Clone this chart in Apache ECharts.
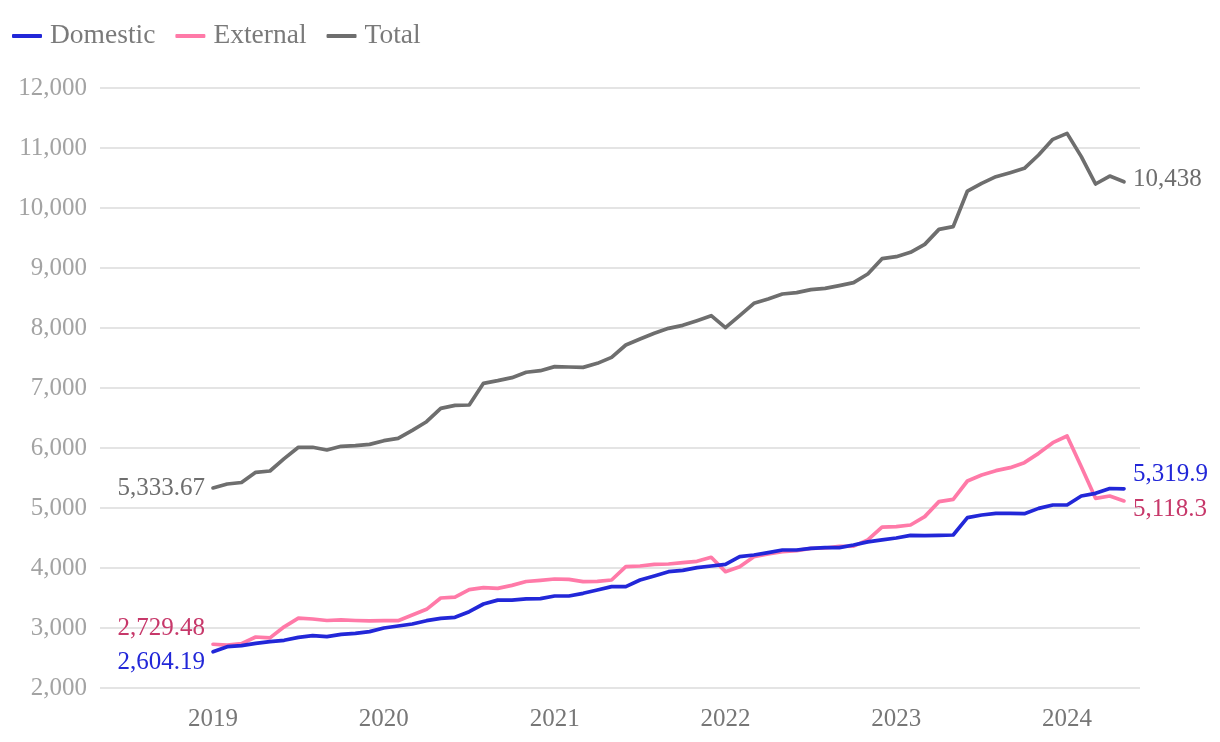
<!DOCTYPE html>
<html><head><meta charset="utf-8">
<script src="https://cdn.jsdelivr.net/npm/echarts@6/dist/echarts.min.js"></script>
<style>html,body{margin:0;padding:0;background:#fff}#c{width:1220px;height:742px}</style>
</head><body><div id="c"></div>
<script>
// Monthly, Jan 2019 .. May 2024 (index 0..64)
const domestic = [2604.19,2689,2706,2744,2772,2795,2844,2872,2856,2894,2911,2939,3000,3033,3067,3122,3161,3178,3272,3400,3464,3465,3485,3489,3533,3533,3578,3633,3689,3689,3800,3867,3939,3961,4006,4033,4061,4189,4217,4256,4300,4300,4328,4339,4339,4383,4436,4470,4500,4544,4540,4544,4550,4839,4883,4911,4911,4905,4994,5050,5050,5200,5244,5325,5319.9];
const external = [2729.48,2715,2740,2850,2835,3020,3165,3150,3125,3135,3125,3120,3122,3122,3217,3311,3500,3515,3640,3672,3661,3710,3775,3794,3817,3811,3772,3778,3800,4022,4033,4061,4067,4089,4111,4178,3939,4022,4189,4233,4272,4289,4328,4333,4360,4365,4467,4680,4689,4717,4856,5106,5144,5450,5550,5622,5672,5756,5911,6089,6200,5689,5161,5200,5118.3];
const total = [5333.67,5400,5425,5595,5617,5822,6012,6012,5967,6028,6040,6060,6122,6160,6295,6438,6661,6710,6717,7078,7122,7172,7262,7289,7356,7350,7344,7411,7511,7717,7817,7911,7994,8044,8122,8205,8006,8205,8411,8483,8567,8589,8639,8661,8706,8756,8900,9156,9189,9261,9394,9644,9689,10283,10411,10522,10589,10661,10883,11144,11244,10856,10400,10533,10438];
const yearLabels = ['2019','2020','2021','2022','2023','2024'];
const yearTickIndex = [0,12,24,36,48,60];
const seriesNames = ['Domestic','External','Total'];

const FONT = '"Liberation Serif", serif';
const fmt = v => v.toLocaleString('en-US', {maximumFractionDigits: 2});

function build(values, startLabel, endLabel) {
  return values.map((v, i) => {
    const item = {value: [i, v]};
    if (i === 0) item.label = Object.assign({show: true, position: 'left', distance: 8, formatter: fmt(v)}, startLabel);
    else if (i === values.length - 1) item.label = Object.assign({show: true, position: 'right', distance: 9, formatter: fmt(v)}, endLabel);
    return item;
  });
}

const labelBase = {fontFamily: FONT, fontSize: 25};
const chart = echarts.init(document.getElementById('c'), null, {renderer: 'canvas'});
chart.setOption({
  animation: false,
  backgroundColor: '#ffffff',
  legend: {
    left: 7, top: 17,
    icon: 'roundRect', itemWidth: 30, itemHeight: 4, itemGap: 20,
    textStyle: {fontFamily: FONT, fontSize: 27.5, color: '#7a7a7a', padding: [0, 0, 0, 3]},
    data: seriesNames
  },
  grid: {left: 100, right: 80, top: 88, bottom: 54, containLabel: false},
  xAxis: {
    type: 'value', min: -7.939, max: 65.124,
    axisLine: {show: false}, axisTick: {show: false}, splitLine: {show: false},
    axisLabel: {
      customValues: yearTickIndex,
      formatter: v => yearLabels[yearTickIndex.indexOf(Math.round(v))] || '',
      fontFamily: FONT, fontSize: 25, color: '#777777', margin: 19
    }
  },
  yAxis: {
    type: 'value', min: 2000, max: 12000, interval: 1000,
    axisLine: {show: false}, axisTick: {show: false},
    splitLine: {lineStyle: {color: '#e4e4e4', width: 2}},
    axisLabel: {
      formatter: v => v.toLocaleString('en-US'),
      fontFamily: FONT, fontSize: 25, color: '#a3a3a3', margin: 13
    }
  },
  series: [
    {
      name: 'Domestic', type: 'line', color: '#2227d8',
      symbol: 'circle', symbolSize: 0, showSymbol: true,
      lineStyle: {width: 3.7, cap: 'round', join: 'round'},
      emphasis: {disabled: true},
      label: Object.assign({color: '#2227d8'}, labelBase),
      data: build(domestic, {offset: [0, 11]}, {offset: [0, -14]}),
      z: 3
    },
    {
      name: 'External', type: 'line', color: '#ff7aa8',
      symbol: 'circle', symbolSize: 0, showSymbol: true,
      lineStyle: {width: 3.7, cap: 'round', join: 'round'},
      emphasis: {disabled: true},
      label: Object.assign({color: '#c7386a'}, labelBase),
      data: build(external, {offset: [0, -16]}, {offset: [0, 9]}),
      z: 2
    },
    {
      name: 'Total', type: 'line', color: '#6e6e6e',
      symbol: 'circle', symbolSize: 0, showSymbol: true,
      lineStyle: {width: 3.7, cap: 'round', join: 'round'},
      emphasis: {disabled: true},
      label: Object.assign({color: '#6e6e6e'}, labelBase),
      data: build(total, {offset: [0, 0]}, {offset: [0, -2]}),
      z: 2
    }
  ]
});
</script></body></html>
